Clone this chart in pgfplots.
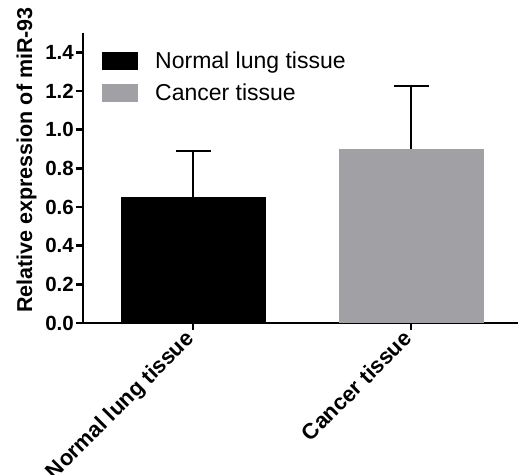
\documentclass[border=0pt]{standalone}
\usepackage{fontspec}
\setmainfont{Liberation Sans}
\usepackage{pgfplots}
\pgfplotsset{compat=1.18}
\definecolor{cgray}{RGB}{161,160,165}
\pgfplotsset{mylegend/.style={legend image code/.code={\path[##1,draw=none] (0pt,-9pt) rectangle (36pt,9pt);}}}
\begin{document}
\begin{tikzpicture}
\begin{axis}[name=ax, scale only axis, width=435pt, height=290pt,
  xmin=-0.505, xmax=1.49, ymin=0, ymax=1.5,
  axis lines=left,
  x axis line style={-, line width=2.6pt},
  y axis line style={-, line width=2.6pt},
  xtick={0,1}, xticklabels={Normal lung tissue, Cancer tissue},
  ytick={0,0.2,0.4,0.6,0.8,1.0,1.2,1.4},
  tick align=outside, major tick length=7pt,
  tick style={line width=2.6pt, black},
  yticklabel style={font=\bfseries\fontsize{20.5}{20.5}\selectfont, inner sep=2pt},
  xticklabel style={font=\bfseries\fontsize{22}{22}\selectfont, inner sep=0pt, xshift=2pt, yshift=-10pt, rotate=45, anchor=base east},
  /pgf/number format/.cd, fixed, fixed zerofill, precision=1, assume math mode=true, /pgfplots/.cd,
  ylabel={Relative expression of miR-93},
  ylabel style={font=\bfseries\fontsize{21.5}{21.5}\selectfont, at={(axis description cs:-0.130,0.562)}, anchor=center, rotate=0},
  legend style={at={(0.0437,0.935)}, anchor=north west, draw=none, fill=none, inner sep=0pt,
    row sep=14pt, column sep=17pt, nodes={inner sep=0pt, font=\fontsize{23}{23}\selectfont}},
  legend cell align=left,
  clip=false,
]
\addplot[ybar, bar width=145pt, bar shift=0pt, fill=black, draw=none, mylegend,
  error bars/.cd, y dir=plus, y explicit,
  error bar style={draw=black, line width=2.6pt},
  error mark options={draw=black, rotate=90, mark size=17.5pt, line width=2.6pt}]
  coordinates {(0,0.65) +- (0,0.24)};
\addplot[ybar, bar width=145pt, bar shift=0pt, fill=cgray, draw=none, mylegend,
  error bars/.cd, y dir=plus, y explicit,
  error bar style={draw=black, line width=2.6pt},
  error mark options={draw=black, rotate=90, mark size=17.5pt, line width=2.6pt}]
  coordinates {(1,0.90) +- (0,0.325)};
\legend{Normal lung tissue, Cancer tissue}
\end{axis}
\pgfresetboundingbox
\path[use as bounding box] ([shift={(-83pt,-152pt)}]ax.south west) rectangle ([shift={(1pt,33pt)}]ax.north east);
\end{tikzpicture}
\end{document}
